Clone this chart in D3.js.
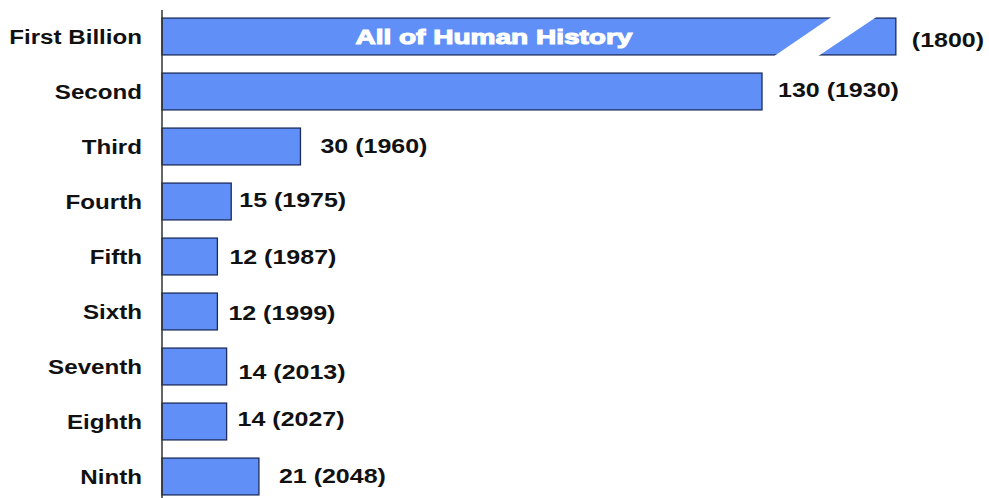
<!DOCTYPE html>
<html>
<head>
<meta charset="utf-8">
<script src="https://cdn.jsdelivr.net/npm/d3@7"></script>
<style>
  html, body { margin: 0; padding: 0; background: #fff; }
  svg { display: block; }
  text { font-family: "Liberation Sans", Arial, sans-serif; font-weight: bold; }
</style>
</head>
<body>
<script>
"use strict";

// years needed to add each billion people, and the year it was reached
const billions = ["First Billion", "Second", "Third", "Fourth", "Fifth", "Sixth", "Seventh", "Eighth", "Ninth"];
const yearsTaken = [null, 130, 30, 15, 12, 12, 14, 14, 21];
const yearReached = [1800, 1930, 1960, 1975, 1987, 1999, 2013, 2027, 2048];
const firstBarText = "All of Human History";
// the first bar has no finite length; it is drawn out to this value and broken
const brokenBarValue = 159;

const width = 989;
const height = 498;
const axisX = 162;
const barColor = "#6090f7";
const barStroke = "#1c2c5c";
const nameStretch = 1.15;
const valueStretch = 1.19;
// small hand nudges so the value labels sit like the original
const labelDx = [16, 16, 20, 8, 12, 11, 12, 11, 20];
const labelDy = [3, -2, -1, -2, 0, 1, 5, -3, -1];

const rows = billions.map((name, i) => ({
  name: name,
  years: yearsTaken[i],
  reached: yearReached[i],
  i: i
}));

const svg = d3.select("body")
  .append("svg")
  .attr("width", width)
  .attr("height", height);

const xScale = d3.scaleLinear()
  .domain([0, 130])
  .range([axisX, 762]);

const yScale = d3.scaleBand()
  .domain(billions)
  .range([9, 504])
  .paddingInner(0.33)
  .paddingOuter(0.165);

const barValue = d => d.years === null ? brokenBarValue : d.years;

// bars
svg.append("g")
  .selectAll("rect")
  .data(rows)
  .enter()
  .append("rect")
  .attr("x", xScale(0))
  .attr("y", d => yScale(d.name))
  .attr("width", d => xScale(barValue(d)) - xScale(0))
  .attr("height", yScale.bandwidth())
  .style("fill", barColor)
  .style("stroke", barStroke)
  .style("stroke-width", 1.3);

// break in the first bar
const first = rows[0];
const fEnd = xScale(barValue(first));
const fTop = yScale(first.name) - 2;
const fBot = yScale(first.name) + yScale.bandwidth() + 2;
svg.append("polygon")
  .attr("points", [
    [fEnd - 123, fBot], [fEnd - 63, fTop], [fEnd - 18, fTop], [fEnd - 79, fBot]
  ].map(p => p.join(",")).join(" "))
  .style("fill", "#fff");

svg.append("text")
  .attr("x", (xScale(0) + fEnd - 90) / 2 + 10)
  .attr("y", yScale(first.name) + yScale.bandwidth() / 2 + 7)
  .attr("text-anchor", "middle")
  .attr("textLength", 277)
  .attr("lengthAdjust", "spacingAndGlyphs")
  .style("font-size", "21px")
  .style("fill", "#fff")
  .style("stroke", "#fff")
  .style("stroke-width", 1.1)
  .text(firstBarText);

// axis line (no ticks)
const yAxis = d3.axisLeft(yScale).tickSize(0).tickFormat("");
svg.append("g")
  .attr("transform", `translate(${axisX}, 0)`)
  .call(yAxis)
  .call(g => g.select(".domain")
    .attr("d", `M0,10V${height}`)
    .style("stroke", "#333")
    .style("stroke-width", 1.5));

// category labels
svg.append("g")
  .selectAll("text")
  .data(rows)
  .enter()
  .append("text")
  .attr("transform", d => `translate(142, ${yScale(d.name) + yScale.bandwidth() / 2 + 7.5}) scale(${nameStretch}, 1)`)
  .attr("text-anchor", "end")
  .style("font-size", "21px")
  .style("fill", "#111")
  .text(d => d.name);

// value labels
svg.append("g")
  .selectAll("text")
  .data(rows)
  .enter()
  .append("text")
  .attr("transform", d => `translate(${xScale(barValue(d)) + labelDx[d.i]}, ${yScale(d.name) + yScale.bandwidth() / 2 + 7.5 + labelDy[d.i]}) scale(${valueStretch}, 1)`)
  .style("font-size", "21px")
  .style("fill", "#111")
  .text(d => d.years === null ? `(${d.reached})` : `${d.years} (${d.reached})`);
</script>
</body>
</html>
